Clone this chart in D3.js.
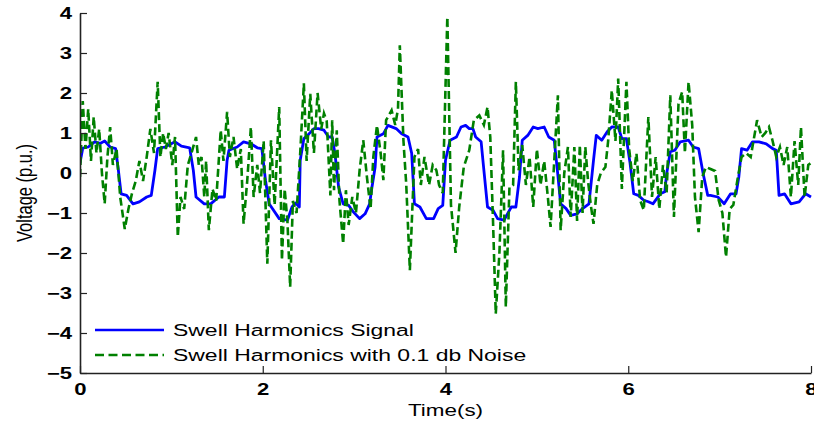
<!DOCTYPE html>
<html>
<head>
<meta charset="utf-8">
<script src="https://cdn.jsdelivr.net/npm/d3@7"></script>
<style>
	body { margin: 0; background: #fff; }
	svg text { font-family: Arial, "Liberation Sans", sans-serif; fill: #000; }
</style>
</head>
<body>
<div id="chart"></div>
<script>
// 横轴、纵轴刻度
const xTicks = [0, 2, 4, 6, 8];
const yTicks = [4, 3, 2, 1, 0, -1, -2, -3, -4, -5];

// Swell Harmonics Signal
const signalTime = [0.00, 0.03, 0.09, 0.16, 0.22, 0.27, 0.33, 0.39, 0.42, 0.45, 0.51, 0.58, 0.65, 0.73, 0.78,
	0.82, 0.85, 0.93, 1.04, 1.11, 1.20, 1.24, 1.27, 1.36, 1.43, 1.52, 1.58, 1.61, 1.63, 1.72, 1.79, 1.87,
	1.94, 1.99, 2.03, 2.07, 2.18, 2.27, 2.32, 2.36, 2.40, 2.41, 2.45, 2.49, 2.56, 2.61, 2.67, 2.72, 2.76,
	2.79, 2.83, 2.88, 2.94, 2.99, 3.06, 3.12, 3.17, 3.19, 3.23, 3.25, 3.32, 3.37, 3.46, 3.52, 3.59, 3.63,
	3.66, 3.72, 3.79, 3.87, 3.92, 3.97, 4.00, 4.05, 4.12, 4.17, 4.22, 4.26, 4.30, 4.33, 4.39, 4.42, 4.46,
	4.52, 4.57, 4.64, 4.72, 4.77, 4.81, 4.84, 4.90, 4.96, 5.01, 5.08, 5.13, 5.19, 5.23, 5.26, 5.32, 5.37,
	5.44, 5.50, 5.57, 5.62, 5.65, 5.71, 5.77, 5.82, 5.89, 5.93, 5.98, 6.02, 6.06, 6.11, 6.17, 6.22, 6.27,
	6.35, 6.40, 6.42, 6.46, 6.51, 6.57, 6.66, 6.71, 6.77, 6.82, 6.87, 6.90, 6.98, 7.05, 7.12, 7.18, 7.21,
	7.24, 7.30, 7.36, 7.43, 7.51, 7.58, 7.62, 7.65, 7.71, 7.78, 7.87, 7.94, 8.00];
const signalVolt = [0.25, 0.62, 0.65, 0.78, 0.74, 0.80, 0.65, 0.61, 0.07, -0.52, -0.56, -0.77, -0.72, -0.60, -0.56,
	0.07, 0.61, 0.65, 0.78, 0.67, 0.63, 0.07, -0.60, -0.77, -0.77, -0.60, -0.60, 0.32, 0.57, 0.65, 0.78, 0.73,
	0.63, 0.61, -0.18, -0.77, -1.14, -1.18, -0.85, -0.75, -0.85, 0.32, 0.86, 0.94, 1.11, 1.11, 1.07, 0.90, 0.90,
	0.49, -0.35, -0.77, -0.81, -0.97, -1.14, -1.02, -0.77, -0.43, 0.15, 0.90, 0.98, 1.19, 1.11, 0.98, 0.90, 0.49,
	-0.77, -0.85, -1.14, -1.14, -0.89, -0.81, 0.32, 0.82, 0.90, 1.15, 1.19, 1.11, 1.11, 0.90, 0.78, 0.07, -0.85,
	-0.93, -1.14, -1.18, -0.85, -0.85, -0.10, 0.82, 0.94, 1.15, 1.11, 1.15, 0.90, 0.82, -0.06, -0.77, -0.89, -1.06,
	-1.02, -0.89, -0.77, 0.32, 0.94, 0.82, 1.03, 1.15, 1.15, 0.86, 0.86, 0.24, -0.52, -0.56, -0.68, -0.72, -0.77,
	-0.52, -0.47, -0.02, 0.53, 0.57, 0.78, 0.82, 0.65, 0.61, -0.02, -0.56, -0.56, -0.60, -0.77, -0.52, -0.52, -0.10,
	0.61, 0.57, 0.78, 0.78, 0.73, 0.61, 0.57, -0.56, -0.52, -0.77, -0.72, -0.52, -0.60];

// Swell Harmonics with 0.1 db Noise
const noisyTime = [0.00, 0.03, 0.06, 0.09, 0.12, 0.15, 0.18, 0.21, 0.24, 0.27, 0.30, 0.33, 0.36, 0.40, 0.44,
	0.49, 0.53, 0.57, 0.61, 0.65, 0.69, 0.73, 0.77, 0.81, 0.85, 0.88, 0.91, 0.94, 0.97, 1.01, 1.04, 1.07,
	1.10, 1.14, 1.18, 1.22, 1.27, 1.30, 1.33, 1.36, 1.38, 1.41, 1.45, 1.49, 1.54, 1.57, 1.61, 1.64, 1.68,
	1.72, 1.76, 1.79, 1.83, 1.87, 1.90, 1.94, 1.97, 2.01, 2.05, 2.09, 2.13, 2.18, 2.21, 2.24, 2.27, 2.30,
	2.33, 2.37, 2.41, 2.45, 2.48, 2.52, 2.56, 2.60, 2.64, 2.67, 2.70, 2.74, 2.76, 2.78, 2.81, 2.84, 2.88,
	2.91, 2.94, 2.98, 3.02, 3.06, 3.10, 3.14, 3.18, 3.21, 3.25, 3.29, 3.32, 3.35, 3.41, 3.45, 3.48, 3.50,
	3.54, 3.57, 3.61, 3.66, 3.70, 3.73, 3.77, 3.82, 3.86, 3.90, 3.93, 3.97, 4.02, 4.06, 4.11, 4.15, 4.20,
	4.26, 4.31, 4.37, 4.42, 4.46, 4.49, 4.52, 4.55, 4.59, 4.63, 4.66, 4.70, 4.74, 4.77, 4.80, 4.84, 4.88,
	4.92, 4.96, 5.00, 5.04, 5.08, 5.12, 5.15, 5.19, 5.23, 5.26, 5.30, 5.34, 5.37, 5.41, 5.44, 5.47, 5.50,
	5.53, 5.56, 5.59, 5.62, 5.66, 5.70, 5.75, 5.78, 5.82, 5.86, 5.89, 5.93, 5.98, 6.01, 6.05, 6.09, 6.13,
	6.17, 6.22, 6.26, 6.30, 6.34, 6.38, 6.42, 6.46, 6.50, 6.55, 6.59, 6.62, 6.66, 6.70, 6.73, 6.77, 6.81,
	6.85, 6.90, 6.95, 6.99, 7.03, 7.07, 7.11, 7.15, 7.20, 7.24, 7.29, 7.34, 7.41, 7.46, 7.50, 7.54, 7.58,
	7.62, 7.66, 7.70, 7.74, 7.78, 7.82, 7.86, 7.89, 7.93, 7.97, 8.00];
const noisyVolt = [-0.10, 1.80, 0.60, 1.60, 0.30, 1.40, 0.50, 1.10, 0.00, -0.77, 0.40, 1.15, 0.20, 0.60, -0.60,
	-1.40, -0.90, -0.50, -0.20, 0.30, -0.20, 0.40, 1.10, 0.50, 2.28, 0.40, 1.00, 0.60, 1.00, 0.20, 0.90, -1.60,
	-0.60, -0.90, 0.20, 0.50, 0.90, 0.20, 0.40, -0.60, 0.30, -1.43, -0.40, -0.70, 1.07, 0.30, 1.53, 0.40, 0.90,
	0.10, 0.60, -1.27, -0.20, 1.15, -0.60, 0.20, -0.50, 0.80, -2.27, 0.82, -0.80, 1.65, -2.18, -0.40, -1.20, -2.85,
	-0.70, -1.00, 0.50, 2.24, 0.30, 1.98, 0.50, 2.00, 1.10, 1.49, 1.30, -0.56, 1.32, -0.43, 1.07, -0.70, -1.77,
	-0.43, -1.30, -0.60, -1.00, 0.07, 0.82, -0.10, -0.90, 0.40, 1.19, 0.50, -0.18, 1.32, 1.57, 1.20, 1.60, 3.19,
	0.80, -0.27, -2.43, 0.40, 0.60, -0.30, 0.40, -0.30, 0.20, 0.07, -0.30, -0.50, 3.90, -0.80, -2.00, -0.85, 0.15,
	0.57, 1.32, 1.44, 1.20, 1.65, 0.90, -1.20, -3.52, -2.00, 0.57, -3.35, -0.35, -0.30, 2.28, 0.07, 0.70, -0.30,
	0.40, -0.85, 0.60, -0.30, 0.30, -0.60, -1.35, 0.30, 1.94, -1.43, 0.00, 0.65, -1.10, 0.65, -1.20, 0.70, -1.00,
	0.65, -0.20, -0.80, -1.27, -0.30, 0.00, 0.15, 0.80, 2.07, 0.80, 2.36, -0.40, 2.28, 0.60, -0.20, 0.49, -0.68,
	-0.93, 1.40, -0.60, 0.40, -0.90, 0.20, -0.50, 1.94, -1.10, 1.73, 2.03, 0.50, 2.28, 1.20, -0.60, -1.48, -0.10,
	0.15, 0.10, 0.05, -0.68, -1.00, -2.10, -0.90, -0.80, -0.10, 0.40, 0.50, 0.40, 1.32, 0.90, 1.00, 1.15, 0.80,
	0.40, 0.65, 0.20, 0.65, -0.60, 0.80, -0.30, 1.15, -0.60, 0.20, 0.25];

const legendNames = ["Swell Harmonics Signal", "Swell Harmonics with 0.1 db Noise"];

const W = 814, H = 423;
const margin = { left: 80, right: 3, top: 13, bottom: 50 };
const font = "Arial, 'Liberation Sans', sans-serif";
// 原图被横向拉伸过，文字也跟着变宽
const stretch = 1.38;

const svg = d3.select("#chart")
	.append("svg")
	.attr("width", W)
	.attr("height", H)
	.style("background", "#fff");

const x = d3.scaleLinear().domain([0, 8]).range([margin.left, W - margin.right]);
const y = d3.scaleLinear().domain([-5, 4]).range([H - margin.bottom, margin.top]);

// 曲线
const line = d3.line().x(d => x(d[0])).y(d => y(d[1]));

svg.append("defs").append("clipPath").attr("id", "plot-clip")
	.append("rect")
	.attr("x", margin.left).attr("y", margin.top - 4)
	.attr("width", W - margin.right - margin.left + 2)
	.attr("height", H - margin.bottom - margin.top + 4);

const plot = svg.append("g").attr("clip-path", "url(#plot-clip)");

plot.append("path")
	.datum(signalTime.map((t, i) => [t, signalVolt[i]]))
	.attr("fill", "none")
	.attr("stroke", "#0000ff")
	.attr("stroke-width", 2.8)
	.attr("stroke-linejoin", "round")
	.attr("d", line);

plot.append("path")
	.datum(noisyTime.map((t, i) => [t, noisyVolt[i]]))
	.attr("fill", "none")
	.attr("stroke", "#008000")
	.attr("stroke-width", 2.6)
	.attr("stroke-dasharray", "8,4")
	.attr("d", line);

// 坐标轴：只有左边和下边，刻度朝内
const xAxis = d3.axisBottom(x).tickValues(xTicks).tickSizeInner(-7).tickSizeOuter(0);
const yAxis = d3.axisLeft(y).tickValues(yTicks).tickSizeInner(-7).tickSizeOuter(0);

const gx = svg.append("g")
	.attr("transform", "translate(0," + y(-5) + ")")
	.call(xAxis);
const gy = svg.append("g")
	.attr("transform", "translate(" + x(0) + ",0)")
	.call(yAxis);

[gx, gy].forEach(g => {
	g.select(".domain").attr("stroke", "#222").attr("stroke-width", 1.6);
	g.selectAll(".tick line").attr("stroke", "#222").attr("stroke-width", 1.2);
	g.selectAll(".tick text")
		.attr("fill", "#000")
		.style("font-family", font)
		.style("font-size", "16px")
		.style("font-weight", "bold");
});
gx.selectAll(".tick text")
	.attr("y", 0).attr("dy", "0.72em")
	.attr("transform", "translate(0,10) scale(" + stretch + ",1)");
gy.selectAll(".tick text")
	.attr("x", 0).attr("dy", "0.36em")
	.attr("transform", "translate(-8,0) scale(" + stretch + ",1)");

svg.append("text")
	.attr("transform", "translate(" + (x(0) + x(8)) / 2 + ",416) scale(1.32,1)")
	.attr("text-anchor", "middle")
	.style("font-family", font)
	.style("font-size", "17px")
	.text("Time(s)");

svg.append("text")
	.attr("transform", "translate(32,193) scale(1.3,1) rotate(-90)")
	.attr("text-anchor", "middle")
	.style("font-family", font)
	.style("font-size", "16.5px")
	.text("Voltage (p.u.)");

// 图例，没有边框
const legend = svg.append("g");
const legendStyle = [
	{ color: "#0000ff", dash: null },
	{ color: "#008000", dash: "9,4.5" }
];
legendNames.forEach((name, i) => {
	const ly = 330 + i * 25;
	legend.append("line")
		.attr("x1", 95).attr("x2", 164)
		.attr("y1", ly).attr("y2", ly)
		.attr("stroke", legendStyle[i].color)
		.attr("stroke-width", 2.6)
		.attr("stroke-dasharray", legendStyle[i].dash);
	legend.append("text")
		.attr("transform", "translate(173," + ly + ") scale(1.35,1)")
		.attr("dy", "0.35em")
		.style("font-family", font)
		.style("font-size", "17px")
		.text(name);
});
</script>
</body>
</html>
